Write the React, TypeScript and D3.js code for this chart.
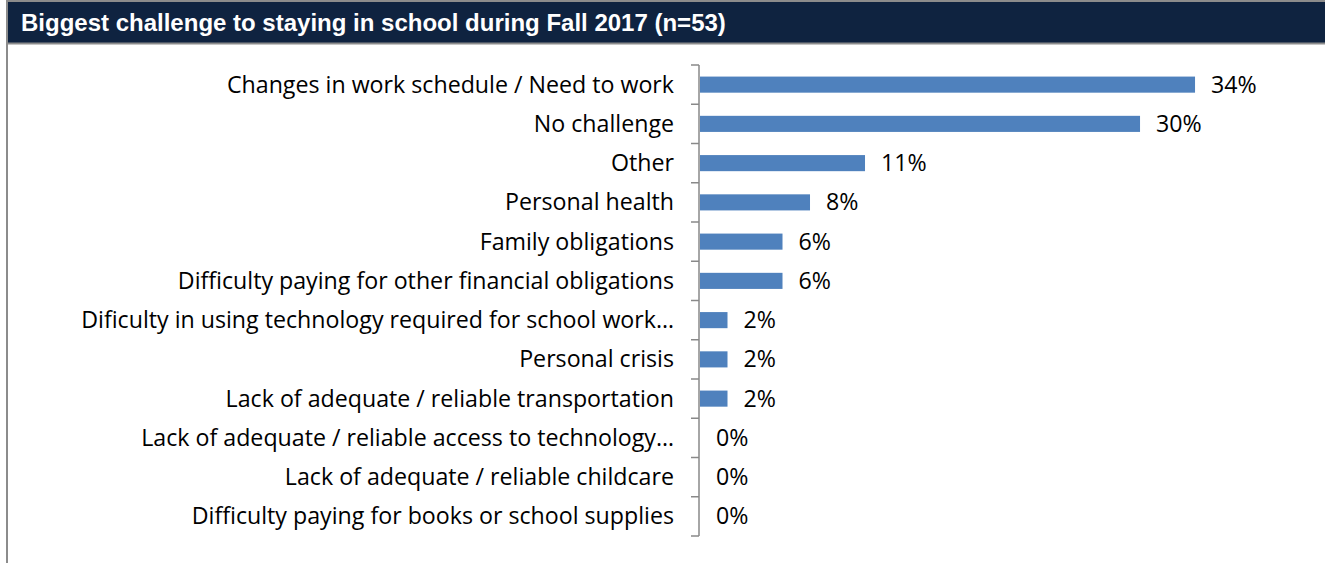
import React from "react";
import * as d3 from "d3";

const TITLE = "Biggest challenge to staying in school during Fall 2017 (n=53)";
const N = 53;
const categories = [
  "Changes in work schedule / Need to work",
  "No challenge",
  "Other",
  "Personal health",
  "Family obligations",
  "Difficulty paying for other financial obligations",
  "Dificulty in using technology required for school work…",
  "Personal crisis",
  "Lack of adequate / reliable transportation",
  "Lack of adequate / reliable access to technology…",
  "Lack of adequate / reliable childcare",
  "Difficulty paying for books or school supplies",
];
const counts = [18, 16, 6, 4, 3, 3, 1, 1, 1, 0, 0, 0];
const shares = counts.map((c) => c / N);

const W = 1325;
const H = 563;
const axisX = 699;
const top = 65;
const bottom = 536;

export default function App() {
  const y = d3.scaleBand<string>().domain(categories).range([top, bottom]).paddingInner(0.59).paddingOuter(0.295);
  const x = d3.scaleLinear().domain([0, 0.3396]).range([axisX + 1, 1195]);
  const ticks = d3.range(categories.length + 1).map((i) => top + i * ((bottom - top) / categories.length));
  const font = "'Open Sans', sans-serif";
  return (
    <svg width={W} height={H} style={{ position: "absolute", left: 0, top: 0, display: "block" }}>
      <rect x={0} y={0} width={W} height={H} fill="#ffffff" />
      <rect x={7} y={1} width={W - 7} height={42} fill="#0f2340" />
      <line x1={7} y1={1} x2={W} y2={1} stroke="#8c8c8c" strokeWidth={2} />
      <line x1={7} y1={43.5} x2={W} y2={43.5} stroke="#8c8c8c" strokeWidth={2} />
      <line x1={7} y1={0} x2={7} y2={H} stroke="#8c8c8c" strokeWidth={2} />
      <text x={21} y={31} fill="#ffffff" fontFamily="'Liberation Sans', Arial, sans-serif" fontWeight="bold" fontSize={24}>
        {TITLE}
      </text>
      {categories.map((c, i) => {
        const yc = (y(c) as number) + y.bandwidth() / 2;
        return (
          <g key={c}>
            {shares[i] > 0 && (
              <rect x={x(0)} y={y(c) as number} width={x(shares[i]) - x(0)} height={y.bandwidth()} fill="#4f81bd" />
            )}
            <text x={674} y={yc} dy="0.35em" textAnchor="end" fontFamily={font} fontSize={23.2} fill="#000">
              {c}
            </text>
            <text x={x(shares[i]) + 16} y={yc} dy="0.35em" fontFamily={font} fontSize={23.2} fill="#000">
              {Math.round(shares[i] * 100) + "%"}
            </text>
          </g>
        );
      })}
      <line x1={axisX} y1={top} x2={axisX} y2={bottom} stroke="#898989" strokeWidth={1.5} />
      {ticks.map((t, i) => (
        <line key={i} x1={axisX - 8} y1={t} x2={axisX} y2={t} stroke="#898989" strokeWidth={1.5} />
      ))}
    </svg>
  );
}
